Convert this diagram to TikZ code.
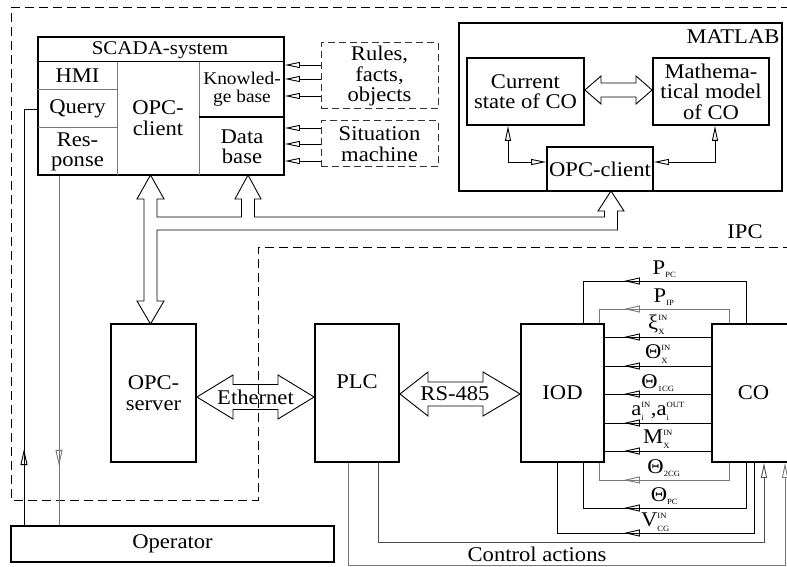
\documentclass[tikz,border=0pt]{standalone}
\usepackage{fontspec}
\setmainfont{Liberation Serif}[FakeStretch=1.08]
\usetikzlibrary{arrows.meta, positioning, decorations.markings, calc}
\definecolor{lgray}{HTML}{777777}
\newcommand{\ts}[1]{\mbox{\fontsize{8}{8}\selectfont #1}}

\tikzset{
  box/.style={draw, line width=1.8bp, inner sep=0pt, align=center},
  dbox/.style={draw=black!80, dash pattern=on 7bp off 4bp, line width=1bp, inner sep=0pt, align=center},
  sig/.style={line width=0.9bp},
  gsig/.style={sig, draw=lgray},
  otip/.style={-{Triangle[open, length=15bp, width=6bp]}},
  btip/.style={{Triangle[open, length=15bp, width=6bp]}-{Triangle[open, length=15bp, width=6bp]}},
  midtip/.style={postaction={decorate}, decoration={markings, mark=at position #1 with {\arrow{Triangle[open, length=16bp, width=7bp]}}}},
  fat/.style={line width=0.9bp, line join=miter},
  lbl/.style={inner sep=0pt}
}

\begin{document}
\begin{tikzpicture}[x=1bp, y=-1bp, font=\fontsize{21}{20.5}\selectfont]
  \useasboundingbox (0,0) rectangle (787,567);

  % IPC border
  \draw[line width=1bp, dash pattern=on 9bp off 5bp] (790,8) -- (11,8) -- (11,500) -- (258,500) -- (258,247) -- (790,247);
  \node (ipc) at (745,232) {IPC};

  % SCADA
  \node[box, minimum width=246bp, minimum height=138bp] (scada) at (161,106) {};
  \draw[line width=1bp] (scada.west |- 0,62) -- (scada.east |- 0,62);
  \draw[lgray, line width=1bp] (117,62) -- (117,175);
  \draw[lgray, line width=1bp] (199,62) -- (199,175);
  \draw[lgray, line width=1bp] (38,90) -- (117,90);
  \draw[lgray, line width=1bp] (38,128) -- (117,128);
  \draw[line width=1.2bp] (199,117) -- (284,117);
  \node[font=\fontsize{19.5}{20}\selectfont] (scadat) at (160,50) {SCADA-system};
  \node (hmi) at (77.5,76) {HMI};
  \node (query) at (77.5,109) {Query};
  \node[align=center] (resp) at (77.5,152) {Res-\\ponse};
  \node[align=center] (opcc) at (158,118) {OPC-\\client};
  \node[align=center, font=\fontsize{18}{18}\selectfont] (kb) at (242,89) {Knowled-\\ge base};
  \node[align=center] (db) at (242,147) {Data\\base};

  % rules, situation machine
  \node[dbox, minimum width=117bp, minimum height=66bp] (rules) at (379.5,76) {Rules,\\facts,\\objects};
  \node[dbox, minimum width=117bp, minimum height=46bp] (sit) at (379.5,144) {Situation\\machine};
  \draw[sig, otip] (rules.west |- 0,65) -- (scada.east |- 0,65);
  \draw[sig, otip] (rules.west |- 0,79) -- (scada.east |- 0,79);
  \draw[sig, otip] (rules.west |- 0,96) -- (scada.east |- 0,96);
  \draw[sig, otip] (sit.west |- 0,128) -- (scada.east |- 0,128);
  \draw[sig, otip] (sit.west |- 0,144) -- (scada.east |- 0,144);
  \draw[sig, otip] (sit.west |- 0,161) -- (scada.east |- 0,161);

  % MATLAB
  \node[draw, line width=1.2bp, minimum width=323bp, minimum height=168bp] (mat) at (620.5,107) {};
  \node[anchor=north east, inner sep=3bp, yshift=-4bp] (matl) at (mat.north east) {MATLAB};
  \node[box, minimum width=117bp, minimum height=67bp] (cs) at (525.5,91.5) {Current\\state of CO};
  \node[box, minimum width=116bp, minimum height=67bp] (mm) at (711,91.5) {Mathema-\\tical model\\of CO};
  \node[box, minimum width=106bp, minimum height=44bp] (opcm) at (600,169) {OPC-client};
  \draw[fat] (cs.east |- 0,90) -- (601,76) -- (601,83) -- (636,83) -- (636,76) -- (mm.west |- 0,90) -- (636,104) -- (636,97) -- (601,97) -- (601,104) -- cycle;
  \draw[sig, btip] (cs.south -| 508,0) |- (opcm.west |- 0,162);
  \draw[sig, btip] (mm.south -| 715,0) |- (opcm.east |- 0,162);

  % OPC link
  \draw[fat] (150.5,324) -- (164,301) -- (157,301) -- (157,230) -- (617.5,230) -- (617.5,211) -- (624,211) -- (611,191) -- (598,211) -- (604.5,211) -- (604.5,217) -- (254.5,217) -- (254.5,199) -- (261,199) -- (248,175) -- (235,199) -- (241.5,199) -- (241.5,217) -- (157,217) -- (157,199) -- (164,199) -- (150.5,175) -- (137,199) -- (144,199) -- (144,301) -- (137,301) -- cycle;

  % lower blocks
  \node[box, minimum width=85bp, minimum height=138bp] (opcs) at (153.5,393) {OPC-\\server};
  \node[box, minimum width=84bp, minimum height=138bp] (plc) at (357,393) {PLC\\[2bp]};
  \node[box, minimum width=83bp, minimum height=138bp] (iod) at (562.5,393) {IOD};
  \node[box, minimum width=83bp, minimum height=138bp] (co) at (753.5,393) {CO};
  \node[box, minimum width=323bp, minimum height=36bp] (op) at (172.5,544) {Operator};

  % Ethernet, RS-485
  \draw[fat] (opcs.east |- 0,397) -- (233,375) -- (233,384.5) -- (278,384.5) -- (278,375) -- (plc.west |- 0,397) -- (278,419) -- (278,409.5) -- (233,409.5) -- (233,419) -- cycle;
  \node (eth) at (255.5,397) {Ethernet};
  \draw[fat] (plc.east |- 0,394) -- (428,372) -- (428,382) -- (483,382) -- (483,372) -- (iod.west |- 0,394) -- (483,416) -- (483,406) -- (428,406) -- (428,416) -- cycle;
  \node (rs) at (455,394) {RS-485};

  % signals CO -> IOD
  \draw[sig, midtip=-83bp] (co.north -| 746,0) |- node[lbl, above=3bp, pos=0.75] {$\mbox{P}_{\ts{PC}}$} (583,281) -- (iod.north -| 583,0);
  \draw[gsig, midtip=-39bp] (co.north -| 729,0) |- node[lbl, above=3bp, pos=0.75, black] {$\mbox{P}_{\ts{IP}}$} (599,309) -- (iod.north -| 599,0);
  \draw[sig, midtip=-19bp] (co.west |- 0,337) -- node[lbl, above=2bp] {$\mbox{ξ}^{\ts{IN}}_{\ts{X}}$} (iod.east |- 0,337);
  \draw[sig, midtip=-19bp] (co.west |- 0,366) -- node[lbl, above=2bp] {$\mbox{Θ}^{\ts{IN}}_{\ts{X}}$} (iod.east |- 0,366);
  \draw[sig, midtip=-19bp] (co.west |- 0,394) -- node[lbl, above=2bp] {$\mbox{Θ}_{\ts{1CG}}$} (iod.east |- 0,394);
  \draw[sig, midtip=-19bp] (co.west |- 0,423) -- node[lbl, above=2bp] {$\mbox{a}^{\ts{IN}}_{\ts{i}}\mbox{,a}^{\ts{OUT}}_{\ts{i}}$} (iod.east |- 0,423);
  \draw[sig, midtip=-19bp] (co.west |- 0,451) -- node[lbl, above=2bp] {$\mbox{M}^{\ts{IN}}_{\ts{X}}$} (iod.east |- 0,451);
  \draw[gsig, midtip=-42bp] (co.south -| 729,0) |- node[lbl, above=3bp, pos=0.75, black] {$\mbox{Θ}_{\ts{2CG}}$} (599,480) -- (iod.south -| 599,0);
  \draw[sig, midtip=-86bp] (co.south -| 746,0) |- node[lbl, above=3bp, pos=0.75] {$\mbox{Θ}_{\ts{PC}}$} (583,508) -- (iod.south -| 583,0);
  \draw[sig, midtip=-137bp] (co.south -| 754,0) |- node[lbl, above=1bp, pos=0.75] {$\mbox{V}^{\ts{IN}}_{\ts{CG}}$} (557,533) -- (iod.south -| 557,0);

  % control actions
  \draw[sig, draw=black!70, otip] (plc.south -| 378,0) |- (764,542) -- (co.south -| 764,0);
  \draw[gsig, otip] (plc.south -| 348,0) |- (785,565) -- (co.south -| 785,0);
  \node (ctrl) at (537,554) {Control actions};

  % operator
  \draw[sig, midtip=76bp] (op.north -| 24,0) |- (scada.west |- 0,109);
  \draw[gsig, midtip=290bp] (scada.south -| 59,0) -- (op.north -| 59,0);
\end{tikzpicture}
\end{document}
